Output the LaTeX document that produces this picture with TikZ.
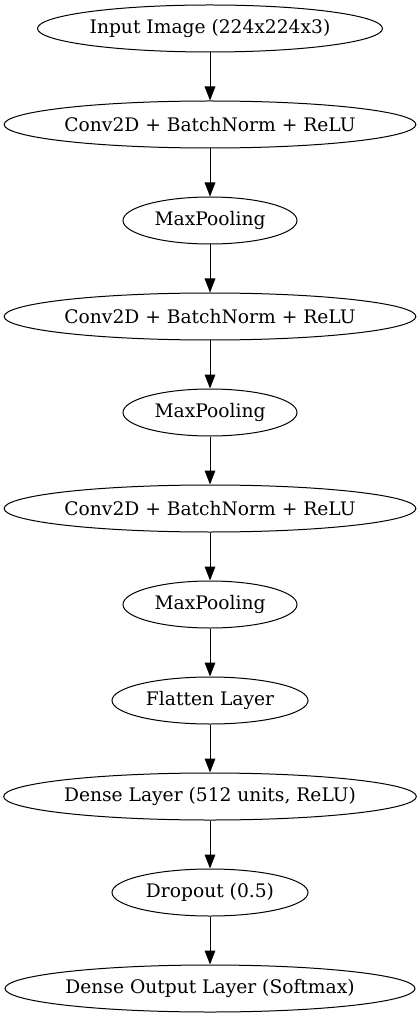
\documentclass[tikz,border=0pt]{standalone}
\usepackage{fontspec}
\setmainfont{DejaVu Serif}
\usetikzlibrary{shapes.geometric,arrows.meta}
\begin{document}
\begin{tikzpicture}[x=0.75pt,y=-0.75pt,
  layer/.style={draw, ellipse, line width=0.75pt, inner sep=0pt, minimum height=35.25pt, font=\fontsize{14}{17}\selectfont},
  wide/.style={layer, minimum width=307.5pt},
  pool/.style={layer, minimum width=130.5pt},
  mid/.style={layer, minimum width=147pt},
  arr/.style={-{Triangle[length=10.5pt,width=8pt]}, line width=0.75pt}]
\useasboundingbox (0,0) rectangle (420,1019);
\node[layer, minimum width=258.75pt] (n1) at (210,28.5) {Input Image (224x224x3)};
\node[wide] (n2) at (210,124.5) {Conv2D + BatchNorm + ReLU};
\node[pool] (n3) at (210,220.5) {MaxPooling};
\node[wide] (n4) at (210,316.5) {Conv2D + BatchNorm + ReLU};
\node[pool] (n5) at (210,412.5) {MaxPooling};
\node[wide] (n6) at (210,508.5) {Conv2D + BatchNorm + ReLU};
\node[pool] (n7) at (210,604.5) {MaxPooling};
\node[mid] (n8) at (210,700.5) {Flatten Layer};
\node[wide] (n9) at (210,796.5) {Dense Layer (512 units, ReLU)};
\node[mid] (n10) at (210,892.5) {Dropout (0.5)};
\node[wide] (n11) at (210,988.5) {Dense Output Layer (Softmax)};
\foreach \a/\b in {n1/n2,n2/n3,n3/n4,n4/n5,n5/n6,n6/n7,n7/n8,n8/n9,n9/n10,n10/n11}
  \draw[arr] (\a) -- (\b);
\end{tikzpicture}
\end{document}
